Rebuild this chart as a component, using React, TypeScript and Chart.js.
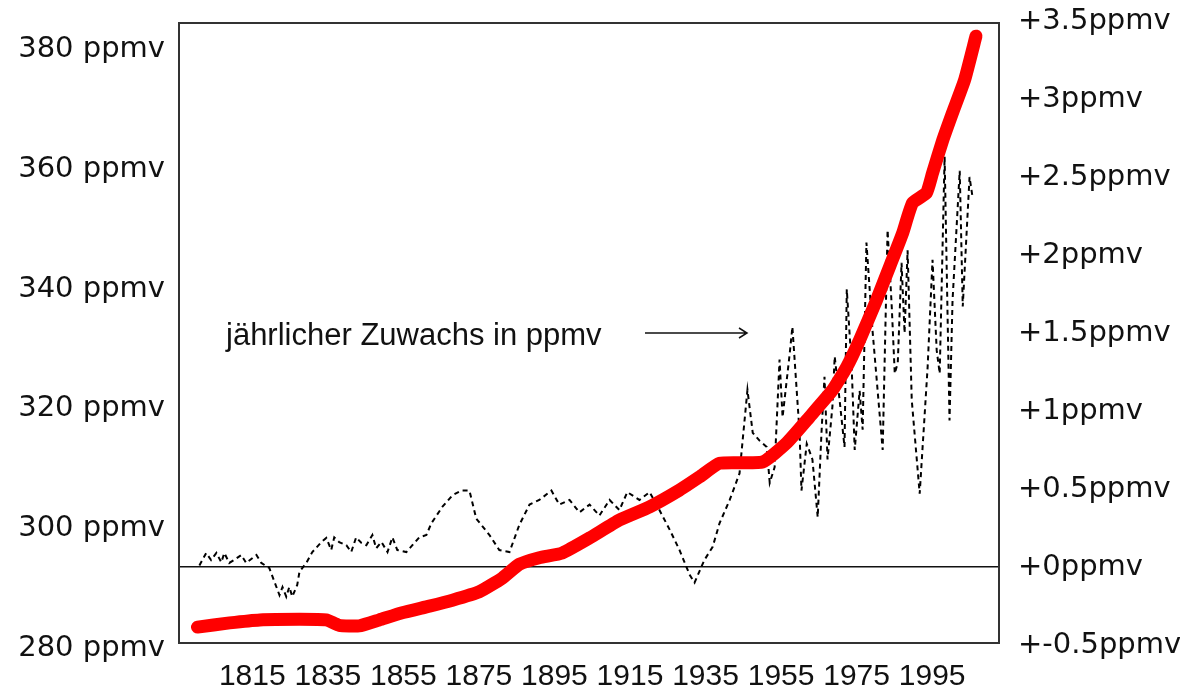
import React, { useEffect, useRef } from "react";
import { Chart, registerables } from "chart.js";

Chart.register(...registerables);

// Atmospheric CO2 concentration (left axis, ppmv)
const co2Years = [1800.5, 1809, 1817, 1827.5, 1834.6, 1838, 1843.3, 1848.6, 1854.7, 1861.9, 1868, 1875.1, 1881.2, 1885.7, 1891, 1897.1, 1904.3, 1912.2, 1920.2, 1928.1, 1933.4, 1938.7, 1950.1, 1956.5, 1962.5, 1968.6, 1972.4, 1975.8, 1980.3, 1983.7, 1987.2, 1989.8, 1993.5, 1995.1, 1997.8, 2000.4, 2003.6, 2006.6];
const co2Ppmv = [283.5, 284.2, 284.7, 284.8, 284.7, 283.8, 283.7, 284.7, 285.9, 287.0, 288.0, 289.4, 291.7, 294.0, 295.1, 295.9, 298.4, 301.4, 303.6, 306.4, 308.6, 310.9, 311.1, 314.3, 318.6, 323.1, 327.0, 331.5, 338.2, 343.7, 349.4, 354.4, 356.1, 359.4, 364.9, 369.5, 375.0, 382.3];

// Annual increase (right axis, ppmv per year)
const growthYears = [1801.0, 1802.8, 1804.1, 1805.5, 1806.8, 1807.6, 1808.9, 1810.2, 1812.1, 1813.4, 1816.1, 1817.4, 1819.5, 1822.2, 1823.0, 1824.0, 1824.8, 1825.6, 1826.9, 1827.5, 1829.3, 1830.9, 1833.3, 1834.6, 1835.9, 1836.7, 1838.0, 1839.9, 1841.2, 1842.5, 1843.9, 1845.2, 1846.8, 1847.8, 1849.2, 1850.8, 1852.1, 1853.4, 1855.8, 1857.4, 1859.2, 1861.1, 1862.4, 1865.3, 1868.0, 1870.4, 1872.5, 1874.3, 1877.8, 1880.4, 1883.1, 1885.7, 1888.4, 1891.0, 1894.2, 1896.3, 1899.0, 1901.6, 1904.3, 1906.9, 1909.6, 1912.2, 1914.3, 1917.5, 1920.2, 1922.8, 1925.5, 1928.1, 1930.8, 1932.1, 1934.7, 1936.9, 1938.7, 1941.4, 1944.0, 1946.1, 1947.5, 1949.3, 1951.2, 1952.0, 1953.3, 1954.6, 1955.4, 1957.3, 1958.0, 1959.9, 1960.4, 1961.8, 1963.3, 1964.7, 1965.7, 1966.5, 1967.3, 1968.6, 1969.2, 1970.5, 1971.8, 1972.4, 1973.7, 1974.5, 1975.8, 1976.6, 1977.6, 1979.2, 1981.9, 1983.2, 1984.3, 1985.1, 1985.9, 1986.9, 1987.7, 1988.5, 1989.6, 1991.7, 1993.8, 1995.1, 1996.2, 1997.0, 1998.3, 1999.6, 2000.4, 2002.3, 2003.1, 2004.9, 2005.7];
const growthPpmv = [0.01, 0.09, 0.045, 0.09, 0.03, 0.09, 0.026, 0.045, 0.077, 0.026, 0.077, 0.026, -0.006, -0.18, -0.128, -0.19, -0.128, -0.19, -0.115, -0.03, 0.026, 0.096, 0.16, 0.186, 0.109, 0.19, 0.16, 0.14, 0.096, 0.19, 0.154, 0.14, 0.205, 0.12, 0.16, 0.096, 0.19, 0.109, 0.096, 0.14, 0.19, 0.205, 0.28, 0.385, 0.46, 0.49, 0.49, 0.31, 0.205, 0.109, 0.096, 0.27, 0.40, 0.43, 0.49, 0.40, 0.43, 0.35, 0.40, 0.33, 0.43, 0.365, 0.48, 0.43, 0.48, 0.365, 0.24, 0.11, -0.05, -0.10, 0.045, 0.13, 0.28, 0.43, 0.60, 1.135, 0.86, 0.81, 0.77, 0.54, 0.64, 1.33, 0.96, 1.37, 1.54, 0.86, 0.49, 0.79, 0.69, 0.32, 0.86, 1.22, 0.69, 1.03, 1.35, 1.07, 0.77, 1.78, 1.28, 0.75, 1.13, 0.88, 2.08, 1.52, 0.75, 2.16, 1.67, 1.24, 1.31, 1.95, 1.50, 2.03, 1.07, 0.47, 1.28, 1.97, 1.39, 1.24, 2.63, 0.94, 1.71, 2.54, 1.67, 2.50, 2.37];

// Axis ticks
const xTicks = [1815, 1835, 1855, 1875, 1895, 1915, 1935, 1955, 1975, 1995];
const leftTicks = [280, 300, 320, 340, 360, 380];
const rightTicks = [-0.5, 0, 0.5, 1, 1.5, 2, 2.5, 3, 3.5];
const annotationText = "jährlicher Zuwachs in ppmv";

const framePlugin = {
  id: "frameAndNote",
  beforeDatasetsDraw(chart: any) {
    const { ctx, chartArea } = chart;
    ctx.save();
    ctx.strokeStyle = "#333";
    ctx.lineWidth = 2;
    ctx.strokeRect(chartArea.left, chartArea.top, chartArea.right - chartArea.left, chartArea.bottom - chartArea.top);
    // annotation
    ctx.fillStyle = "#111";
    ctx.font = '31px "Liberation Sans", Arial, sans-serif';
    ctx.textBaseline = "alphabetic";
    ctx.textAlign = "left";
    ctx.fillText(annotationText, 226, 345);
    ctx.strokeStyle = "#111";
    ctx.lineWidth = 1.5;
    ctx.beginPath();
    ctx.moveTo(645, 333);
    ctx.lineTo(747, 333);
    ctx.moveTo(739, 328);
    ctx.lineTo(747, 333);
    ctx.lineTo(739, 338);
    ctx.stroke();
    ctx.restore();
  },
};

export default function App() {
  const ref = useRef<HTMLCanvasElement | null>(null);
  useEffect(() => {
    document.body.style.margin = "0";
    const canvas = ref.current!;
    const yFont = { family: '"DejaVu Sans", sans-serif', size: 29 };
    const chart = new Chart(canvas, {
      type: "line",
      data: {
        datasets: [
          {
            label: "CO2",
            data: co2Years.map((x, i) => ({ x, y: co2Ppmv[i] })),
            yAxisID: "y",
            borderColor: "#ff0000",
            borderWidth: 13,
            borderCapStyle: "round",
            borderJoinStyle: "round",
            pointRadius: 0,
            tension: 0.15,
            fill: false,
          },
          {
            label: "Zuwachs",
            data: growthYears.map((x, i) => ({ x, y: growthPpmv[i] })),
            yAxisID: "y1",
            borderColor: "#000",
            borderWidth: 2,
            borderDash: [5, 4],
            pointRadius: 0,
            tension: 0,
            fill: false,
          },
        ],
      },
      options: {
        animation: false,
        responsive: false,
        layout: { padding: { top: 23, left: 0, right: 0, bottom: 0 } },
        plugins: { legend: { display: false }, tooltip: { enabled: false } },
        scales: {
          x: {
            type: "linear",
            min: 1795.6,
            max: 2012.7,
            afterBuildTicks: (s: any) => { s.ticks = xTicks.map((v) => ({ value: v })); },
            afterFit: (s: any) => { s.height = 50; },
            grid: { display: false, drawTicks: false },
            border: { display: false },
            ticks: {
              autoSkip: false,
              maxRotation: 0,
              padding: 16,
              color: "#111",
              font: { family: '"Liberation Sans", Arial, sans-serif', size: 30 },
              callback: (v: any) => String(v),
            },
          },
          y: {
            type: "linear",
            position: "left",
            min: 280.84,
            max: 384.5,
            afterBuildTicks: (s: any) => { s.ticks = leftTicks.map((v) => ({ value: v })); },
            afterFit: (s: any) => { s.width = 179; },
            grid: { display: false, drawTicks: true, tickLength: 14, tickColor: "rgba(0,0,0,0)" },
            border: { display: false },
            ticks: {
              autoSkip: false,
              padding: 0,
              color: "#111",
              font: yFont,
              callback: (v: any) => v + " ppmv",
            },
          },
          y1: {
            type: "linear",
            position: "right",
            min: -0.487,
            max: 3.487,
            afterBuildTicks: (s: any) => { s.ticks = rightTicks.map((v) => ({ value: v })); },
            afterFit: (s: any) => { s.width = 181; },
            grid: {
              display: true,
              drawTicks: true,
              tickLength: 19,
              tickColor: "rgba(0,0,0,0)",
              lineWidth: 1.5,
              color: (c: any) => (c.tick && c.tick.value === 0 ? "#111" : "rgba(0,0,0,0)"),
            },
            border: { display: false },
            ticks: {
              autoSkip: false,
              padding: 0,
              color: "#111",
              font: yFont,
              callback: (v: any) => "+" + v + "ppmv",
            },
          },
        },
      },
      plugins: [framePlugin],
    } as any);
    return () => chart.destroy();
  }, []);
  return (
    <div style={{ width: 1180, height: 693 }}>
      <canvas ref={ref} width={1180} height={693} style={{ display: "block" }} />
    </div>
  );
}
